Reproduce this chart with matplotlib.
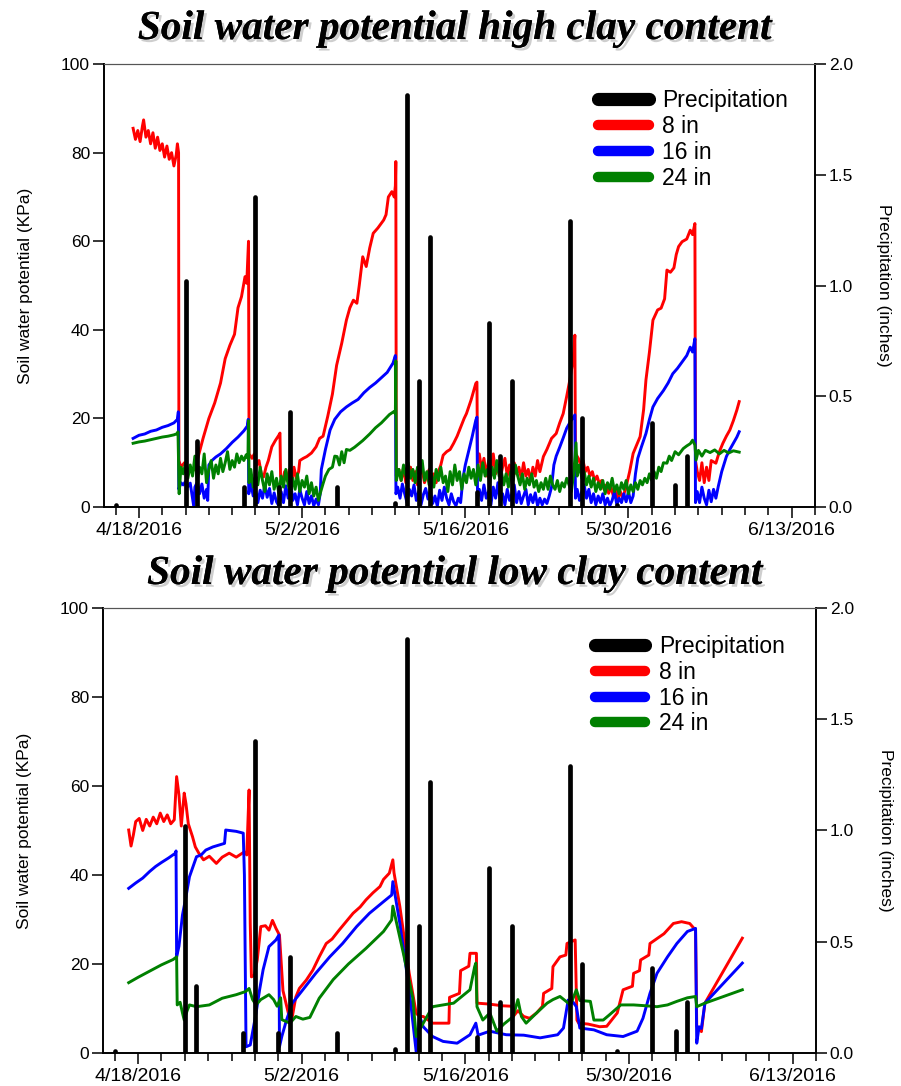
import pandas as pd
import matplotlib
matplotlib.use('Agg')
import matplotlib.pyplot as plt
import matplotlib.patheffects as pe
from matplotlib.lines import Line2D
from matplotlib.ticker import FixedLocator, MultipleLocator, FormatStrFormatter

plt.rcParams['font.family'] = ['Liberation Sans', 'DejaVu Sans']

START = pd.Timestamp('2016-04-15')
END = pd.Timestamp('2016-06-15')

# daily rainfall, inches
rain_dates = ['2016-04-16', '2016-04-22', '2016-04-23', '2016-04-27', '2016-04-28',
              '2016-04-30', '2016-05-01', '2016-05-05', '2016-05-10', '2016-05-11',
              '2016-05-12', '2016-05-13', '2016-05-17', '2016-05-18', '2016-05-19',
              '2016-05-20', '2016-05-25', '2016-05-26', '2016-05-29', '2016-06-01',
              '2016-06-03', '2016-06-04']
rain_in = [0.01, 1.02, 0.30, 0.09, 1.40,
           0.09, 0.43, 0.09, 0.02, 1.86,
           0.57, 1.22, 0.07, 0.83, 0.23,
           0.57, 1.29, 0.40, 0.01, 0.38,
           0.10, 0.23]

# sensor readings: (days after START, kPa)
hi_8in = [(2.5, 85.5), (2.7, 83.0), (2.9, 85.0), (3.1, 82.5), (3.3, 86.0), (3.4, 87.4),
          (3.6, 83.5), (3.8, 85.0), (4.0, 82.0), (4.2, 84.5), (4.4, 81.0), (4.6, 83.5),
          (4.8, 80.5), (5.0, 82.0), (5.2, 79.0), (5.4, 81.5), (5.6, 78.5), (5.8, 80.0),
          (6.0, 77.0), (6.2, 79.5), (6.3, 82.0), (6.4, 80.0), (6.43, 10.5), (6.6, 9.0),
          (6.9, 10.0), (7.2, 8.5), (7.5, 8.0), (7.7, 8.4), (8.0, 10.5), (8.5, 15.5),
          (9.0, 20.0), (9.5, 23.5), (10.0, 28.0), (10.4, 33.5), (10.8, 36.5), (11.2, 39.0),
          (11.5, 45.0), (11.8, 47.5), (12.1, 52.0), (12.25, 50.5), (12.4, 60.0), (12.45, 12.0),
          (12.7, 11.0), (12.9, 12.0), (13.1, 9.5), (13.3, 10.5), (13.5, 7.5), (13.7, 6.8),
          (13.9, 9.0), (14.1, 10.5), (14.4, 13.6), (14.7, 15.0), (15.0, 16.2), (15.1, 16.7),
          (15.15, 7.0), (15.3, 5.5), (15.5, 8.0), (15.7, 6.0), (15.9, 8.5), (16.1, 5.0),
          (16.3, 9.0), (16.5, 6.5), (16.7, 8.0), (16.8, 10.5), (17.1, 11.0), (17.4, 11.4),
          (17.8, 12.2), (18.2, 13.6), (18.5, 15.5), (18.8, 16.0), (19.2, 20.5), (19.6, 25.5),
          (19.96, 32.0), (20.4, 37.0), (20.8, 42.2), (21.1, 45.0), (21.4, 46.7), (21.7, 46.0),
          (21.9, 50.0), (22.2, 56.5), (22.5, 54.3), (22.8, 58.5), (23.1, 61.8), (23.5, 63.0),
          (24.0, 64.8), (24.2, 66.0), (24.4, 70.0), (24.7, 71.2), (24.9, 70.0), (25.0, 72.5),
          (25.04, 78.0), (25.08, 7.0), (25.3, 8.5), (25.5, 6.0), (25.7, 8.8), (25.9, 5.5),
          (26.1, 7.5), (26.3, 9.0), (26.5, 6.0), (26.7, 8.0), (26.9, 5.0), (27.1, 7.5),
          (27.3, 8.5), (27.5, 5.5), (27.7, 7.0), (27.9, 8.5), (28.1, 6.0), (28.3, 7.5),
          (28.5, 5.5), (28.7, 8.0), (28.9, 9.5), (29.1, 11.7), (29.4, 12.5), (29.7, 13.0),
          (30.0, 14.4), (30.3, 16.0), (30.6, 18.0), (30.9, 20.0), (31.1, 21.1), (31.5, 24.2),
          (31.9, 27.9), (32.0, 28.2), (32.05, 10.0), (32.2, 12.0), (32.4, 8.5), (32.6, 11.0),
          (32.8, 7.0), (33.0, 10.5), (33.2, 8.0), (33.4, 12.0), (33.6, 7.5), (33.8, 9.5),
          (34.0, 6.5), (34.2, 9.0), (34.4, 11.0), (34.6, 7.0), (34.8, 9.5), (35.0, 6.0),
          (35.2, 10.0), (35.4, 7.5), (35.6, 9.0), (35.8, 6.5), (36.0, 10.0), (36.2, 7.0),
          (36.4, 8.5), (36.6, 6.0), (36.8, 9.0), (37.0, 7.0), (37.2, 10.5), (37.4, 8.0),
          (37.7, 11.4), (38.0, 13.0), (38.4, 15.5), (38.8, 16.6), (39.1, 19.0), (39.4, 21.1),
          (39.7, 25.0), (39.97, 28.7), (40.25, 33.2), (40.4, 38.8), (40.45, 12.1), (40.7, 11.0),
          (40.9, 9.5), (41.1, 10.5), (41.3, 8.0), (41.5, 9.0), (41.7, 7.0), (41.9, 8.0),
          (42.1, 6.0), (42.3, 7.0), (42.5, 5.3), (42.7, 6.0), (42.9, 4.0), (43.1, 5.0),
          (43.3, 3.1), (43.5, 4.5), (43.7, 2.5), (43.9, 4.0), (44.1, 2.0), (44.3, 3.5),
          (44.5, 2.0), (44.8, 4.6), (45.1, 8.0), (45.4, 12.1), (46.0, 15.9), (46.3, 22.0),
          (46.5, 28.7), (46.8, 35.0), (47.1, 42.2), (47.5, 44.5), (47.8, 44.9), (48.1, 47.0),
          (48.3, 53.5), (48.6, 53.0), (48.9, 54.0), (49.1, 57.0), (49.3, 58.8), (49.6, 59.9),
          (50.0, 60.5), (50.3, 62.5), (50.5, 61.5), (50.7, 64.0), (50.75, 10.5), (50.9, 8.0),
          (51.1, 6.0), (51.3, 10.0), (51.5, 5.5), (51.7, 9.0), (51.9, 6.0), (52.1, 10.5),
          (52.5, 9.9), (52.8, 12.5), (53.1, 14.4), (53.4, 16.0), (53.7, 17.4), (54.0, 19.5),
          (54.3, 21.9), (54.5, 23.8)]

hi_16in = [(2.5, 15.5), (3.0, 16.2), (3.5, 16.5), (4.0, 17.1), (4.5, 17.4), (5.0, 18.0),
           (5.5, 18.4), (6.0, 19.0), (6.3, 19.8), (6.38, 21.5), (6.42, 4.0), (6.6, 5.5),
           (6.8, 5.0), (7.0, 5.8), (7.2, 4.6), (7.4, 5.4), (7.6, 2.0), (7.7, 0.2),
           (7.8, 4.5), (8.0, 5.6), (8.2, 3.0), (8.4, 5.2), (8.6, 2.0), (8.8, 4.0),
           (8.9, 1.5), (9.0, 9.5), (9.3, 10.6), (9.6, 11.3), (10.0, 12.0), (10.5, 13.2),
           (11.0, 14.6), (11.5, 15.8), (12.0, 17.2), (12.3, 18.3), (12.38, 19.8), (12.42, 3.0),
           (12.6, 5.5), (12.8, 2.5), (13.0, 4.0), (13.2, 1.0), (13.4, 3.8), (13.6, 2.0),
           (13.8, 5.0), (14.0, 2.2), (14.2, 4.2), (14.4, 0.8), (14.6, 3.2), (14.8, 1.2),
           (15.0, 0.3), (15.2, 3.5), (15.4, 1.0), (15.6, 4.8), (15.8, 2.0), (16.0, 6.0),
           (16.2, 1.5), (16.4, 3.0), (16.6, 0.5), (16.8, 4.0), (17.0, 2.0), (17.2, 0.5),
           (17.4, 3.5), (17.6, 0.8), (17.8, 2.5), (18.0, 0.3), (18.2, 1.8), (18.4, 0.5),
           (18.55, 3.0), (18.65, 8.5), (19.0, 13.0), (19.4, 17.4), (19.8, 19.8), (20.3, 21.5),
           (20.8, 22.6), (21.3, 23.5), (21.8, 24.3), (22.3, 25.8), (22.8, 27.0), (23.3, 28.0),
           (23.8, 29.2), (24.3, 30.4), (24.8, 32.5), (25.0, 34.2), (25.05, 3.0), (25.2, 4.5),
           (25.4, 2.0), (25.6, 5.2), (25.8, 3.0), (26.0, 1.0), (26.2, 4.0), (26.4, 2.5),
           (26.6, 5.0), (26.8, 1.5), (27.0, 3.5), (27.2, 0.5), (27.4, 2.8), (27.6, 4.2),
           (27.8, 1.8), (28.0, 3.6), (28.2, 0.8), (28.4, 2.5), (28.6, 0.2), (28.8, 3.8),
           (29.0, 1.5), (29.2, 4.5), (29.4, 2.0), (29.6, 0.5), (29.8, 3.0), (30.0, 1.2),
           (30.2, 0.3), (30.4, 2.0), (30.6, 1.0), (30.8, 6.5), (31.0, 9.5), (31.3, 12.8),
           (31.6, 16.0), (31.9, 19.6), (32.0, 20.3), (32.05, 2.5), (32.2, 4.0), (32.4, 1.5),
           (32.6, 5.0), (32.8, 2.0), (33.0, 3.5), (33.2, 0.5), (33.4, 4.5), (33.6, 2.0),
           (33.8, 5.5), (34.0, 1.0), (34.2, 3.0), (34.4, 0.5), (34.6, 4.0), (34.8, 1.5),
           (35.0, 3.0), (35.2, 5.0), (35.4, 1.0), (35.6, 3.5), (35.8, 0.8), (36.0, 2.5),
           (36.2, 4.0), (36.4, 0.5), (36.6, 2.8), (36.8, 1.0), (37.0, 3.2), (37.2, 0.3),
           (37.4, 2.0), (37.6, 0.5), (37.8, 1.8), (38.0, 0.8), (38.2, 2.5), (38.4, 4.5),
           (38.6, 9.5), (38.8, 11.5), (39.1, 13.5), (39.4, 15.6), (39.7, 17.8), (40.0, 19.2),
           (40.2, 20.0), (40.4, 20.8), (40.45, 2.0), (40.6, 4.0), (40.8, 1.5), (41.0, 3.5),
           (41.2, 5.0), (41.4, 2.0), (41.6, 4.0), (41.8, 1.0), (42.0, 3.0), (42.2, 0.5),
           (42.4, 2.5), (42.6, 1.0), (42.8, 3.0), (43.0, 0.5), (43.2, 2.0), (43.4, 0.3),
           (43.6, 1.5), (43.8, 3.5), (44.0, 0.5), (44.2, 2.0), (44.4, 1.0), (44.6, 3.0),
           (44.8, 1.2), (45.0, 3.5), (45.2, 1.0), (45.4, 2.5), (45.6, 7.5), (45.8, 11.0),
           (46.1, 13.5), (46.5, 16.6), (46.8, 19.8), (47.1, 22.6), (47.5, 24.5), (48.0, 26.3),
           (48.4, 28.0), (48.8, 30.1), (49.2, 31.3), (49.7, 33.1), (50.0, 34.2), (50.3, 36.1),
           (50.5, 35.0), (50.7, 38.0), (50.75, 1.0), (50.9, 3.5), (51.1, 1.0), (51.3, 4.5),
           (51.5, 2.0), (51.7, 0.5), (51.9, 3.8), (52.1, 1.2), (52.3, 4.0), (52.5, 2.0),
           (52.7, 4.6), (53.0, 8.0), (53.4, 11.4), (53.7, 13.0), (54.0, 14.4), (54.3, 15.8),
           (54.5, 17.0)]

hi_24in = [(2.5, 14.4), (3.0, 14.7), (3.5, 14.9), (4.0, 15.2), (4.5, 15.5), (5.0, 15.8),
           (5.5, 16.0), (6.0, 16.3), (6.3, 16.6), (6.35, 17.0), (6.45, 3.0), (6.6, 9.0),
           (6.8, 7.5), (7.0, 10.0), (7.2, 6.5), (7.4, 9.5), (7.6, 7.0), (7.8, 11.5),
           (8.0, 6.0), (8.2, 9.0), (8.4, 7.5), (8.6, 12.0), (8.8, 5.5), (9.0, 8.5),
           (9.2, 10.5), (9.4, 6.5), (9.6, 9.5), (9.8, 7.5), (10.0, 11.0), (10.2, 8.0),
           (10.4, 10.0), (10.6, 12.5), (10.8, 8.5), (11.0, 10.5), (11.2, 9.0), (11.4, 12.0),
           (11.6, 10.0), (11.8, 11.5), (12.0, 10.5), (12.2, 11.8), (12.35, 11.0), (12.4, 19.5),
           (12.45, 5.5), (12.6, 8.5), (12.8, 4.5), (13.0, 7.0), (13.2, 5.0), (13.4, 9.0),
           (13.6, 6.0), (13.8, 3.5), (14.0, 7.5), (14.2, 5.0), (14.4, 8.0), (14.6, 4.0),
           (14.8, 6.5), (15.0, 3.0), (15.2, 7.0), (15.4, 4.5), (15.6, 8.5), (15.8, 5.0),
           (16.0, 3.0), (16.2, 6.5), (16.4, 4.0), (16.6, 7.5), (16.8, 3.5), (17.0, 6.0),
           (17.2, 4.5), (17.4, 7.0), (17.6, 3.0), (17.8, 5.5), (18.0, 2.5), (18.2, 4.5),
           (18.4, 1.5), (18.6, 3.5), (18.8, 5.3), (19.0, 7.0), (19.3, 8.5), (19.6, 9.0),
           (19.8, 11.5), (20.0, 11.4), (20.2, 9.5), (20.4, 12.5), (20.6, 10.0), (20.8, 13.0),
           (21.1, 12.8), (21.5, 13.5), (22.2, 15.0), (22.8, 16.5), (23.3, 17.9), (23.8, 19.0),
           (24.5, 20.9), (24.9, 21.6), (25.0, 21.0), (25.04, 33.0), (25.08, 6.0), (25.3, 8.5),
           (25.5, 6.0), (25.7, 9.5), (25.9, 7.0), (26.1, 10.0), (26.3, 6.5), (26.5, 8.5),
           (26.7, 5.5), (26.9, 9.0), (27.1, 7.5), (27.3, 10.5), (27.5, 6.0), (27.7, 8.0),
           (27.9, 5.0), (28.1, 7.5), (28.3, 4.5), (28.5, 8.5), (28.7, 6.0), (28.9, 9.0),
           (29.1, 5.5), (29.3, 7.0), (29.5, 3.5), (29.7, 8.0), (29.9, 5.0), (30.1, 9.5),
           (30.3, 6.0), (30.5, 8.0), (30.7, 4.0), (30.9, 7.5), (31.1, 5.5), (31.3, 9.0),
           (31.5, 6.5), (31.7, 8.5), (31.9, 5.0), (32.1, 9.5), (32.3, 6.0), (32.5, 10.0),
           (32.7, 7.0), (32.9, 8.5), (33.1, 5.5), (33.3, 9.0), (33.5, 6.5), (33.7, 10.5),
           (33.9, 7.0), (34.1, 8.0), (34.3, 5.0), (34.5, 7.5), (34.7, 4.5), (34.9, 8.0),
           (35.1, 6.0), (35.3, 9.5), (35.5, 7.0), (35.7, 5.0), (35.9, 7.5), (36.1, 4.0),
           (36.3, 6.5), (36.5, 5.0), (36.7, 7.5), (36.9, 4.5), (37.1, 6.0), (37.3, 3.5),
           (37.5, 5.5), (37.7, 4.0), (37.9, 6.5), (38.1, 4.0), (38.3, 7.0), (38.5, 5.0),
           (38.7, 4.0), (38.9, 6.0), (39.1, 3.5), (39.3, 5.5), (39.5, 4.5), (39.7, 6.5),
           (39.9, 5.0), (40.1, 3.5), (40.3, 7.5), (40.5, 14.5), (40.6, 7.0), (40.8, 9.5),
           (41.0, 6.5), (41.2, 8.0), (41.4, 5.0), (41.6, 7.0), (41.8, 4.5), (42.0, 6.5),
           (42.2, 3.5), (42.4, 5.5), (42.6, 4.0), (42.8, 6.0), (43.0, 3.0), (43.2, 5.5),
           (43.4, 4.0), (43.6, 6.5), (43.8, 3.5), (44.0, 5.0), (44.2, 3.0), (44.4, 5.5),
           (44.6, 4.0), (44.8, 6.0), (45.0, 3.0), (45.2, 5.0), (45.4, 3.5), (45.6, 5.5),
           (45.8, 4.0), (46.0, 6.0), (46.2, 5.0), (46.4, 6.5), (46.6, 5.5), (46.8, 7.5),
           (47.0, 6.0), (47.2, 8.0), (47.4, 6.5), (47.6, 9.0), (47.8, 8.0), (48.0, 10.0),
           (48.3, 9.9), (48.5, 11.5), (48.7, 10.5), (49.0, 12.5), (49.3, 11.8), (49.7, 13.2),
           (50.0, 13.8), (50.3, 14.3), (50.5, 15.1), (50.7, 14.0), (50.8, 10.6), (51.0, 12.8),
           (51.3, 11.5), (51.6, 12.8), (52.0, 12.3), (52.4, 12.9), (52.8, 12.0), (53.2, 12.8),
           (53.6, 12.2), (54.0, 12.7), (54.5, 12.4)]

lo_8in = [(2.2, 50.1), (2.4, 46.5), (2.6, 49.0), (2.8, 52.0), (3.1, 52.7), (3.4, 50.0),
          (3.7, 52.5), (4.0, 51.0), (4.3, 53.0), (4.6, 51.5), (4.9, 53.9), (5.2, 52.0),
          (5.5, 53.5), (5.8, 51.5), (6.1, 52.4), (6.3, 62.1), (6.5, 58.0), (6.7, 51.0),
          (6.95, 58.4), (7.1, 56.0), (7.3, 51.5), (7.66, 48.6), (7.9, 46.3), (8.2, 44.9),
          (8.6, 43.4), (9.1, 44.2), (9.7, 42.6), (10.2, 44.0), (10.8, 44.9), (11.4, 44.0),
          (12.1, 45.2), (12.3, 44.5), (12.5, 59.1), (12.6, 29.1), (12.7, 17.1), (12.95, 17.5),
          (13.2, 20.9), (13.5, 28.4), (13.9, 28.6), (14.2, 27.6), (14.5, 29.8), (14.8, 28.0),
          (15.1, 26.5), (15.4, 14.0), (15.9, 8.5), (16.2, 8.2), (16.5, 12.6), (16.8, 14.5),
          (17.4, 16.4), (17.95, 18.6), (18.5, 21.6), (19.1, 24.6), (19.6, 25.6), (20.2, 27.6),
          (20.8, 29.5), (21.4, 31.4), (22.0, 32.8), (22.5, 34.4), (23.1, 36.0), (23.7, 37.4),
          (24.0, 39.0), (24.5, 40.4), (24.8, 43.4), (24.9, 40.5), (25.4, 32.9), (26.2, 17.9),
          (26.8, 8.9), (27.1, 8.2), (27.4, 8.2), (28.2, 6.7), (29.6, 6.7), (29.65, 12.5),
          (30.5, 13.4), (30.6, 18.5), (31.3, 19.5), (31.4, 22.4), (31.95, 22.4), (32.0, 11.2),
          (33.0, 11.0), (34.2, 10.6), (35.0, 10.5), (35.1, 8.2), (35.5, 9.5), (36.0, 8.2),
          (36.5, 7.8), (37.1, 9.0), (37.6, 10.5), (37.7, 13.4), (38.4, 14.5), (38.5, 19.4),
          (39.1, 21.6), (39.6, 22.0), (39.7, 24.6), (40.4, 25.4), (40.55, 7.4), (40.7, 6.7),
          (41.5, 6.5), (42.5, 5.9), (43.1, 6.0), (44.0, 9.0), (44.5, 14.2), (45.3, 15.0),
          (45.4, 17.9), (45.9, 18.5), (46.0, 20.9), (46.7, 22.0), (46.8, 24.6), (48.0, 26.8),
          (48.8, 29.1), (49.5, 29.5), (50.2, 29.1), (50.7, 27.6), (50.8, 6.0), (51.0, 5.5),
          (51.2, 4.8), (51.5, 11.2), (54.7, 25.8)]

lo_16in = [(2.2, 37.0), (2.8, 38.2), (3.4, 39.3), (4.0, 40.8), (4.5, 41.9), (5.0, 42.8),
           (5.6, 43.8), (6.2, 44.9), (6.25, 45.4), (6.3, 21.6), (6.5, 24.0), (6.8, 31.0),
           (7.1, 35.1), (7.4, 39.6), (8.0, 44.1), (8.4, 44.5), (8.8, 45.6), (9.4, 46.3),
           (10.4, 47.1), (10.5, 50.1), (11.4, 49.8), (12.0, 49.4), (12.1, 40.0), (12.24, 1.4),
           (12.6, 1.8), (13.1, 9.0), (13.4, 14.2), (13.7, 18.7), (14.2, 23.9), (14.8, 25.4),
           (15.05, 26.5), (15.1, 1.4), (15.3, 3.7), (15.7, 7.4), (16.2, 11.2), (17.1, 14.2),
           (18.2, 17.9), (19.4, 21.6), (20.5, 24.6), (21.7, 28.4), (22.8, 31.4), (24.0, 34.0),
           (24.7, 35.5), (24.8, 38.5), (25.4, 29.1), (26.2, 14.2), (26.8, 0.2), (27.1, 8.2),
           (27.4, 5.9), (28.2, 3.7), (29.1, 2.6), (30.3, 2.2), (31.4, 4.1), (31.9, 6.7),
           (32.1, 4.0), (33.1, 4.9), (34.5, 4.1), (36.0, 4.0), (37.4, 3.4), (38.9, 4.1),
           (39.4, 5.6), (39.8, 11.9), (40.2, 11.5), (40.5, 10.4), (40.8, 5.6), (42.0, 5.2),
           (43.1, 4.1), (44.5, 3.7), (45.7, 4.9), (46.2, 7.8), (46.8, 13.4), (47.4, 17.9),
           (48.3, 21.6), (49.1, 24.6), (50.0, 27.3), (50.3, 27.6), (50.7, 28.0), (50.8, 2.2),
           (51.0, 5.9), (51.2, 5.5), (51.5, 11.2), (54.7, 20.2)]

lo_24in = [(2.2, 15.8), (3.0, 17.0), (4.0, 18.4), (5.0, 19.8), (6.0, 21.0), (6.3, 21.6),
           (6.35, 10.8), (6.6, 11.4), (6.8, 9.0), (6.95, 7.4), (7.2, 9.5), (7.4, 10.8),
           (8.0, 10.4), (9.1, 10.8), (10.2, 12.3), (11.4, 13.1), (12.2, 13.8), (12.5, 14.5),
           (12.8, 12.0), (13.1, 10.8), (13.5, 12.0), (14.2, 13.1), (14.6, 12.0), (14.9, 10.5),
           (15.2, 12.4), (15.3, 7.5), (16.0, 6.7), (16.5, 8.2), (17.1, 7.6), (17.7, 8.0),
           (18.5, 12.3), (19.7, 16.5), (21.0, 20.0), (22.5, 23.5), (24.0, 27.3), (24.7, 29.9),
           (24.8, 33.0), (25.7, 22.4), (26.5, 12.4), (26.8, 3.7), (27.4, 6.7), (28.2, 10.4),
           (30.0, 11.2), (31.4, 14.2), (31.8, 19.4), (31.9, 20.2), (32.0, 10.4), (32.5, 7.4),
           (33.1, 9.0), (33.7, 4.9), (34.3, 6.5), (35.1, 8.2), (35.5, 12.0), (35.8, 8.2),
           (36.2, 6.7), (37.1, 9.0), (38.0, 11.2), (38.5, 12.0), (39.1, 12.7), (40.0, 10.8),
           (40.5, 14.2), (40.8, 11.8), (41.7, 11.6), (42.0, 7.4), (42.8, 7.4), (43.3, 8.5),
           (44.3, 10.8), (45.4, 10.8), (46.5, 10.6), (47.4, 10.4), (48.3, 10.8), (49.1, 11.6),
           (50.0, 12.4), (50.7, 12.7), (50.8, 10.4), (51.5, 11.2), (54.7, 14.2)]

titles = ['Soil water potential high clay content', 'Soil water potential low clay content']
depth_labels = ['8 in', '16 in', '24 in']
depth_colors = ['#ff0000', '#0000ff', '#008000']
date_ticks = ['4/18/2016', '5/2/2016', '5/16/2016', '5/30/2016', '6/13/2016']


def to_time(series):
    days, vals = zip(*series)
    return START + pd.to_timedelta(list(days), unit='D'), list(vals)


def draw_panel(ax, sensors, leg_xy):
    ax2 = ax.twinx()
    for s, c in zip(sensors, depth_colors):
        t, v = to_time(s)
        ax.plot(t, v, color=c, lw=2.1, solid_joinstyle='round')

    ax2.vlines(pd.to_datetime(rain_dates), 0, rain_in, color='k', lw=3.4,
               capstyle='round')

    ax.set_xlim(START, END)
    ax.set_ylim(0, 100)
    ax2.set_ylim(0, 2.0)

    major = pd.to_datetime(date_ticks, format='%m/%d/%Y')
    minor = pd.date_range('2016-04-16', END, freq='2D')
    ax.xaxis.set_major_locator(FixedLocator(matplotlib.dates.date2num(major)))
    ax.xaxis.set_minor_locator(FixedLocator(matplotlib.dates.date2num(minor)))
    ax.set_xticklabels(date_ticks)
    ax.yaxis.set_major_locator(MultipleLocator(20))
    ax2.yaxis.set_major_locator(MultipleLocator(0.5))
    ax2.yaxis.set_major_formatter(FormatStrFormatter('%.1f'))

    ax.tick_params(axis='x', which='major', direction='out', length=8, width=1.1,
                   labelsize=14, pad=3)
    ax.tick_params(axis='x', which='minor', direction='out', length=6, width=1.1)
    ax.tick_params(axis='y', direction='out', length=8, width=1.1, labelsize=12.5, pad=2)
    ax2.tick_params(axis='y', direction='out', length=8, width=1.1, labelsize=12.5, pad=2)

    for a in (ax, ax2):
        for side in ('left', 'right', 'bottom'):
            a.spines[side].set_linewidth(1.2)
        a.spines['top'].set_linewidth(0.8)
        a.spines['top'].set_color('#555555')

    ax.set_ylabel('Soil water potential (KPa)', fontsize=12.5, ha='center', va='center')
    ax.yaxis.set_label_coords(-0.11, 0.5)
    ax2.set_ylabel('Precipitation (inches)', fontsize=12.5, rotation=270,
                   ha='center', va='center')
    ax2.yaxis.set_label_coords(1.097, 0.5)

    handles = [Line2D([], [], color='k', lw=9.5, solid_capstyle='round')]
    handles += [Line2D([], [], color=c, lw=7.5, solid_capstyle='round')
                for c in depth_colors]
    ax2.legend(handles, ['Precipitation'] + depth_labels, loc='upper left',
               bbox_to_anchor=leg_xy, frameon=False, fontsize=16.5,
               handlelength=2.2, handletextpad=0.6, labelspacing=0.12,
               borderpad=0, borderaxespad=0)


fig = plt.figure(figsize=(9.01, 10.86), dpi=100)
ax_hi = fig.add_axes([0.1154, 0.5331, 0.7891, 0.4079])
ax_lo = fig.add_axes([0.1143, 0.0304, 0.7913, 0.4098])

draw_panel(ax_hi, [hi_8in, hi_16in, hi_24in], (0.695, 0.943))
draw_panel(ax_lo, [lo_8in, lo_16in, lo_24in], (0.69, 0.939))

shadow = [pe.withSimplePatchShadow(offset=(2, -2), shadow_rgbFace='0.45', alpha=0.35),
          pe.Normal()]
for title, y in zip(titles, (1 - 39 / 1086, 1 - 584 / 1086)):
    fig.text(0.505, y, title, ha='center', va='baseline', fontsize=29.7,
             family='Liberation Serif', weight='bold', style='italic',
             path_effects=shadow)

fig.savefig('out.png', dpi=100)
